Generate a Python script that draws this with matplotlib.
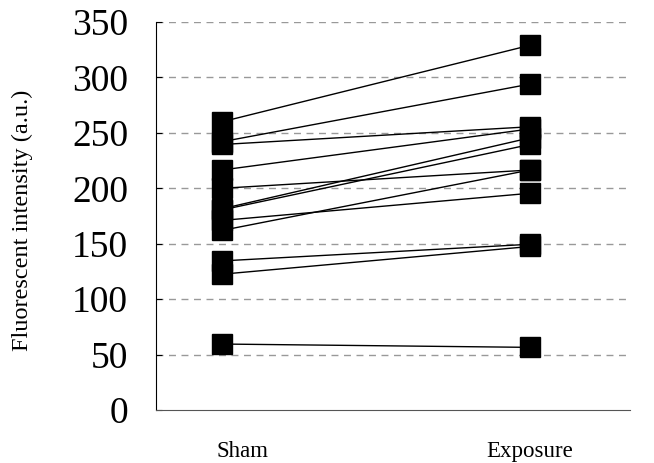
import matplotlib
matplotlib.use("Agg")
import matplotlib.pyplot as plt
import matplotlib.transforms as mtransforms

groups = ["Sham", "Exposure"]
sham = [260, 242, 239.5, 216.5, 200, 181.5, 180.5, 171, 162, 134.5, 122.5, 59.5]
exposure = [329, 294, 255.5, 253.5, 216.5, 245.5, 239.5, 195.5, 216.5, 149.5, 147.5, 56.5]
yticks = [0, 50, 100, 150, 200, 250, 300, 350]

plt.rcParams['font.family'] = ['Liberation Serif', 'DejaVu Serif']

fig = plt.figure(figsize=(6.54, 4.63), dpi=100)
ax = fig.add_axes([156/654, 1-410/463, (630-156)/654, (410-22)/463])

xpos = [0, 1]
for s, e in zip(sham, exposure):
    ax.plot(xpos, [s, e], color='black', lw=1.0, zorder=3)
ax.plot([0]*len(sham), sham, 's', color='black', ms=14, zorder=4, linestyle='none')
ax.plot([1]*len(exposure), exposure, 's', color='black', ms=14, zorder=4, linestyle='none')

ax.set_ylim(0, 350)
ax.set_xlim(-66/308, 408/308)
ax.set_yticks(yticks)
ax.set_yticklabels([str(v) for v in yticks], fontsize=27)
for v in yticks[1:]:
    ax.axhline(v, color='#999999', lw=1.0, ls=(0, (5, 4)), zorder=1)

ax.set_xticks(xpos)
ax.set_xticklabels(groups, fontsize=16.5)
ax.tick_params(axis='x', length=0, pad=22)
ax.tick_params(axis='y', direction='in', length=4, pad=20, width=0.8)
offset = mtransforms.ScaledTranslation(20/100, 0, fig.dpi_scale_trans)
lab = ax.get_xticklabels()[0]
lab.set_transform(lab.get_transform() + offset)

ax.spines['top'].set_visible(False)
ax.spines['right'].set_visible(False)
ax.spines['left'].set_color('black')
ax.spines['bottom'].set_color('#555555')

ax.set_ylabel("Fluorescent intensity (a.u.)", fontsize=17.5)
ax.yaxis.set_label_coords(-(156-33)/474, 0.49)

fig.savefig("out.png", dpi=100)
